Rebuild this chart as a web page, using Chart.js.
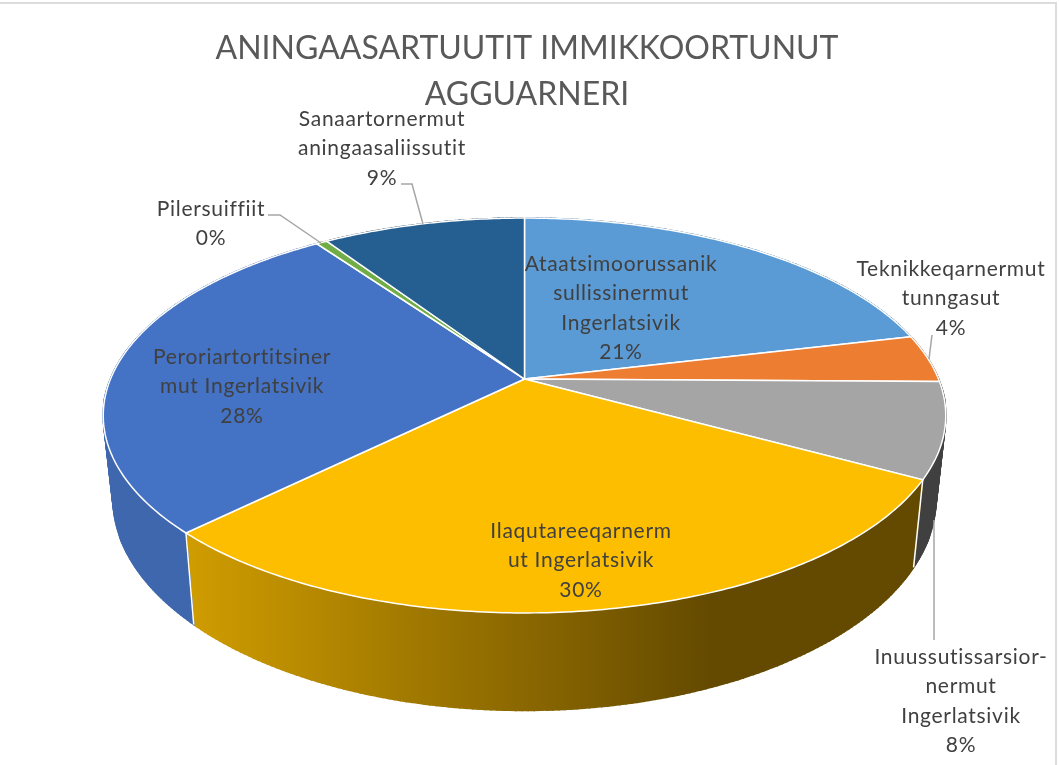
<!DOCTYPE html>
<html>
<head>
<meta charset="utf-8">
<title>Aningaasartuutit</title>
<script src="https://cdn.jsdelivr.net/npm/chart.js@4/dist/chart.umd.min.js"></script>
<style>
  html, body { margin: 0; padding: 0; background: #fff; }
  canvas { display: block; }
</style>
</head>
<body>
<canvas id="pie" width="1059" height="765"></canvas>
<script>
// Chart data
const categories = [
  "Ataatsimoorussanik sullissinermut Ingerlatsivik",
  "Teknikkeqarnermut tunngasut",
  "Inuussutissarsiornermut Ingerlatsivik",
  "Ilaqutareeqarnermut Ingerlatsivik",
  "Peroriartortitsinermut Ingerlatsivik",
  "Pilersuiffiit",
  "Sanaartornermut aningaasaliissutit"
];
const values = [21.3, 3.9, 7.8, 29.6, 27.6, 0.5, 9.3];
const percentLabels = ["21%", "4%", "8%", "30%", "28%", "0%", "9%"];
const labelLines = [
  ["Ataatsimoorussanik", "sullissinermut", "Ingerlatsivik"],
  ["Teknikkeqarnermut", "tunngasut"],
  ["Inuussutissarsior-", "nermut", "Ingerlatsivik"],
  ["Ilaqutareeqarnerm", "ut Ingerlatsivik"],
  ["Peroriartortitsiner", "mut Ingerlatsivik"],
  ["Pilersuiffiit"],
  ["Sanaartornermut", "aningaasaliissutit"]
];
const titleLines = ["ANINGAASARTUUTIT IMMIKKOORTUNUT", "AGGUARNERI"];

const sliceColors = ["#5b9bd5", "#ed7d31", "#a5a5a5", "#fdbe00", "#4472c4", "#70ad47", "#255e91"];
const wallColors = [
  ["#3a6a96", "#3a6a96"],
  ["#9c5220", "#9c5220"],
  ["#404040", "#404040"],
  ["#cf9c00", "#644a00"],
  ["#3f67ad", "#375c9e"],
  ["#4a7230", "#4a7230"],
  ["#183e60", "#183e60"]
];

// Where each label's text is centred, and the y of its first line
const labelX = [621, 951, 961, 581, 242, 211, 382];
const labelY = [264, 269, 657, 531, 357, 209, 119];
const lineGap = 29.4;

// Leader lines from the labels to the slices
const leaders = [
  [[268, 215], [280, 215], [321, 243]],
  [[401, 184], [412, 184], [423, 224]],
  [[932, 335], [929, 359]],
  [[934, 520], [934, 640]]
];

// Perspective view of the pie disc
const view = { cx: 524.5, cy: 379, a: 414, b: 190.7, k: 0.1848 };
// Bottom disc is the top disc shrunk sideways and pushed down
const depth = { sx: 0.977, sy: 1.075, dy: 51.5 };

// Map a Chart.js arc angle to a point on the top rim
function project(angle) {
  const u = Math.cos(angle);
  const v = -Math.sin(angle);
  const w = 1 + view.k * v;
  return [view.cx + view.a * u / w, view.cy - view.b * v / w];
}

function lowered(p) {
  return [view.cx + depth.sx * (p[0] - view.cx), depth.sy * p[1] + depth.dy];
}

function rimPoints(start, end) {
  const steps = Math.max(2, Math.ceil((end - start) * 80));
  const pts = [];
  for (let i = 0; i <= steps; i++) {
    pts.push(project(start + (end - start) * i / steps));
  }
  return pts;
}

function tracePoints(ctx, pts) {
  pts.forEach((p, i) => {
    if (i === 0) ctx.moveTo(p[0], p[1]);
    else ctx.lineTo(p[0], p[1]);
  });
}

// Draws the arcs of the pie controller as a tilted 3D disc
const tiltedPie = {
  id: "tiltedPie",
  beforeDraw(chart) {
    const ctx = chart.ctx;
    ctx.save();
    ctx.fillStyle = "#fff";
    ctx.fillRect(0, 0, chart.width, chart.height);
    ctx.strokeStyle = "#dcdcdc";
    ctx.lineWidth = 2;
    ctx.beginPath();
    ctx.moveTo(0, 3);
    ctx.lineTo(1056, 3);
    ctx.lineTo(1056, 765);
    ctx.stroke();
    ctx.restore();
  },
  beforeDatasetDraw(chart, args) {
    const ctx = chart.ctx;
    const arcs = args.meta.data;
    ctx.save();

    // side walls first, the top surface hides the back ones
    arcs.forEach((arc, i) => {
      const rim = rimPoints(arc.startAngle, arc.endAngle);
      const grad = ctx.createLinearGradient(190, 0, 710, 0);
      grad.addColorStop(0, wallColors[i][0]);
      grad.addColorStop(1, wallColors[i][1]);
      ctx.fillStyle = grad;
      ctx.strokeStyle = grad;
      ctx.lineWidth = 1.6; // wide enough to close the seams between quads
      // one quad per rim step, so the outline follows the extrusion at the sides
      for (let n = 0; n < rim.length - 1; n++) {
        ctx.beginPath();
        tracePoints(ctx, [rim[n], rim[n + 1], lowered(rim[n + 1]), lowered(rim[n])]);
        ctx.closePath();
        ctx.fill();
        ctx.stroke();
      }
    });

    // white seams between the visible walls
    ctx.strokeStyle = "#fff";
    ctx.lineWidth = 1.5;
    arcs.forEach(arc => {
      const top = project(arc.endAngle);
      if (top[1] < 440) return;
      const bottom = lowered(top);
      ctx.beginPath();
      ctx.moveTo(top[0], top[1]);
      ctx.lineTo(bottom[0], bottom[1]);
      ctx.stroke();
    });

    // top surface
    arcs.forEach((arc, i) => {
      ctx.fillStyle = sliceColors[i];
      ctx.beginPath();
      tracePoints(ctx, [[view.cx, view.cy]].concat(rimPoints(arc.startAngle, arc.endAngle)));
      ctx.closePath();
      ctx.fill();
      ctx.stroke();
    });

    ctx.restore();
    return false;
  },
  afterDraw(chart) {
    const ctx = chart.ctx;
    ctx.save();

    ctx.strokeStyle = "#a6a6a6";
    ctx.lineWidth = 1.5;
    leaders.forEach(line => {
      ctx.beginPath();
      tracePoints(ctx, line);
      ctx.stroke();
    });

    ctx.fillStyle = "#404040";
    ctx.font = "21px Lato";
    ctx.letterSpacing = "0.7px";
    ctx.textAlign = "center";
    ctx.textBaseline = "middle";
    labelLines.forEach((lines, i) => {
      lines.concat(percentLabels[i]).forEach((text, n) => {
        ctx.fillText(text, labelX[i], labelY[i] + n * lineGap);
      });
    });
    ctx.restore();
  }
};

new Chart(document.getElementById("pie"), {
  type: "pie",
  data: {
    labels: categories,
    datasets: [{ data: values, backgroundColor: sliceColors, borderColor: "#fff" }]
  },
  options: {
    responsive: false,
    animation: false,
    layout: { padding: { right: 5 } },
    plugins: {
      legend: { display: false },
      tooltip: { enabled: false },
      title: {
        display: true,
        text: titleLines,
        color: "#595959",
        font: { family: "Lato", size: 32, weight: "normal", lineHeight: 1.46 },
        padding: { top: 25, bottom: 0 }
      }
    }
  },
  plugins: [tiltedPie]
});
</script>
</body>
</html>
